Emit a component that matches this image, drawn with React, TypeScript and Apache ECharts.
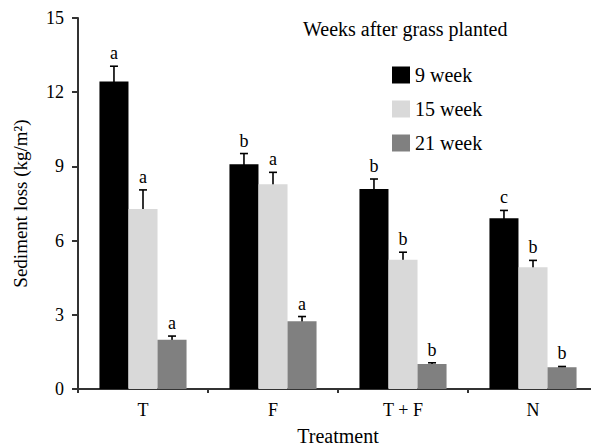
import React, { useEffect, useRef } from "react";
import * as echarts from "echarts";

const categories = ["T", "F", "T + F", "N"];
const seriesNames = ["9 week", "15 week", "21 week"];
const week9 = [12.43, 9.09, 8.09, 6.9];
const week15 = [7.28, 8.28, 5.23, 4.92];
const week21 = [1.99, 2.74, 1.01, 0.88];
const err9 = [0.62, 0.43, 0.4, 0.32];
const err15 = [0.77, 0.48, 0.3, 0.28];
const err21 = [0.15, 0.19, 0.05, 0.03];
const letters9 = ["a", "b", "b", "c"];
const letters15 = ["a", "a", "b", "b"];
const letters21 = ["a", "a", "b", "b"];
const yTicks = [0, 3, 6, 9, 12, 15];

const colors = ["#000000", "#d9d9d9", "#808080"];
const FONT = '"Liberation Serif", "Times New Roman", serif';
const GAP = 0.33;

export default function App() {
  const ref = useRef<HTMLDivElement>(null);
  useEffect(() => {
    document.body.style.margin = "0";
    const chart = echarts.init(ref.current!, null, { renderer: "svg" });
    const means = [week9, week15, week21];
    const errs = [err9, err15, err21];
    const letters = [letters9, letters15, letters21];

    const barSeries = means.map((m, i) => ({
      name: seriesNames[i],
      type: "bar",
      data: m,
      barGap: "0%",
      barCategoryGap: GAP * 100 + "%",
      itemStyle: { color: colors[i] },
    }));

    const errSeries = means.map((m, i) => ({
      type: "custom",
      clip: false,
      silent: true,
      data: m.map((v, ci) => [ci, v, errs[i][ci]]),
      renderItem: (params: any, api: any) => {
        const ci = api.value(0);
        const mean = api.value(1);
        const e = api.value(2);
        const catW = api.size([1, 0])[0];
        const barW = (catW * (1 - GAP)) / 3;
        const cx = api.coord([ci, 0])[0] + (i - 1) * barW;
        const yTop = api.coord([ci, mean + e])[1];
        const yBot = api.coord([ci, mean - e])[1];
        const capHalf = 4;
        const st = { stroke: "#000", lineWidth: 1.6 };
        return {
          type: "group",
          children: [
            { type: "line", shape: { x1: cx, y1: yTop, x2: cx, y2: yBot }, style: st },
            { type: "line", shape: { x1: cx - capHalf, y1: yTop, x2: cx + capHalf, y2: yTop }, style: st },
            { type: "line", shape: { x1: cx - capHalf, y1: yBot, x2: cx + capHalf, y2: yBot }, style: st },
            {
              type: "text",
              x: cx,
              y: yTop - 4,
              style: {
                text: letters[i][params.dataIndex],
                fill: "#000",
                font: `18px ${FONT}`,
                align: "center",
                verticalAlign: "bottom",
              },
            },
          ],
        };
      },
    }));

    chart.setOption({
      animation: false,
      backgroundColor: "#fff",
      textStyle: { fontFamily: FONT },
      grid: { left: 78, right: -7, top: 18, bottom: 59, containLabel: false, outerBoundsMode: "none" },
      title: {
        text: "Weeks after grass planted",
        left: 298,
        top: 14,
        textStyle: { fontFamily: FONT, fontSize: 20, fontWeight: "normal", color: "#000" },
      },
      legend: {
        data: seriesNames,
        orient: "vertical",
        left: 387,
        top: 60,
        itemWidth: 18,
        itemHeight: 17,
        itemGap: 14,
        icon: "rect",
        textStyle: { fontFamily: FONT, fontSize: 20, color: "#000" },
      },
      xAxis: {
        type: "category",
        data: categories,
        name: "Treatment",
        nameLocation: "middle",
        nameGap: 37,
        nameTextStyle: { fontFamily: FONT, fontSize: 20, lineHeight: 20, color: "#000" },
        axisLine: { lineStyle: { color: "#333", width: 2 } },
        axisTick: { show: true, length: 4, lineStyle: { color: "#333", width: 2 } },
        axisLabel: { fontFamily: FONT, fontSize: 18, color: "#000", margin: 12 },
      },
      yAxis: {
        type: "value",
        min: yTicks[0],
        max: yTicks[yTicks.length - 1],
        interval: 3,
        name: "Sediment loss (kg/m²)",
        nameLocation: "middle",
        nameGap: 48,
        nameTextStyle: { fontFamily: FONT, fontSize: 19, color: "#000" },
        axisLine: { show: true, lineStyle: { color: "#333", width: 2 } },
        axisTick: { show: true, length: 6, lineStyle: { color: "#333", width: 2 } },
        axisLabel: { fontFamily: FONT, fontSize: 18, color: "#000", margin: 14 },
        splitLine: { show: false },
      },
      series: [...barSeries, ...errSeries],
    });
    return () => chart.dispose();
  }, []);
  return <div ref={ref} style={{ width: 591, height: 448 }} />;
}
